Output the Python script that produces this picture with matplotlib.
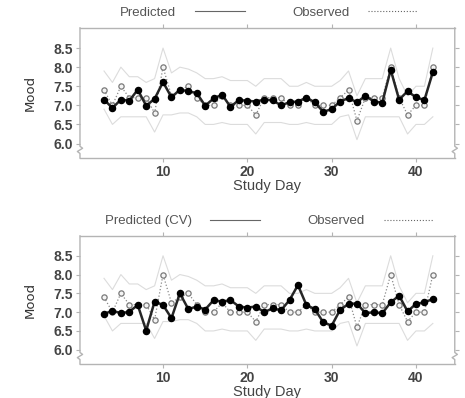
import matplotlib
matplotlib.use('Agg')
import matplotlib.pyplot as plt
import numpy as np

plt.rcParams['font.family'] = ['Liberation Sans', 'DejaVu Sans']

days = list(range(3, 43))

observed = [7.4, 7.0, 7.5, 7.2, 7.2, 7.2, 6.8, 8.0, 7.25, 7.4,
            7.5, 7.2, 7.0, 7.0, 7.25, 7.0, 7.0, 7.0, 6.75, 7.2,
            7.2, 7.2, 7.0, 7.0, 7.2, 7.0, 7.0, 7.0, 7.2, 7.4,
            6.6, 7.2, 7.2, 7.2, 8.0, 7.2, 6.75, 7.0, 7.0, 8.0]

predicted = [7.15, 6.93, 7.15, 7.12, 7.41, 6.99, 7.17, 7.61, 7.21, 7.41,
             7.37, 7.32, 6.99, 7.18, 7.28, 6.96, 7.14, 7.12, 7.10, 7.15,
             7.13, 7.00, 7.08, 7.10, 7.20, 7.08, 6.83, 6.90, 7.10, 7.19,
             7.08, 7.25, 7.10, 7.07, 7.93, 7.15, 7.37, 7.21, 7.14, 7.87]

predicted_cv = [6.95, 7.04, 6.97, 7.01, 7.19, 6.51, 7.28, 7.19, 6.84, 7.50,
                7.08, 7.15, 7.07, 7.32, 7.28, 7.32, 7.15, 7.12, 7.15, 7.00,
                7.10, 7.05, 7.32, 7.72, 7.19, 7.08, 6.73, 6.64, 7.06, 7.22,
                7.23, 6.97, 7.00, 6.97, 7.26, 7.44, 7.02, 7.22, 7.26, 7.35]

upper = [7.9, 7.6, 8.0, 7.75, 7.75, 7.6, 7.7, 8.5, 7.85, 8.0,
         7.95, 7.85, 7.7, 7.7, 7.75, 7.65, 7.65, 7.65, 7.5, 7.7,
         7.7, 7.7, 7.5, 7.5, 7.6, 7.5, 7.5, 7.5, 7.65, 7.9,
         7.25, 7.7, 7.7, 7.7, 8.5, 7.7, 7.25, 7.5, 7.5, 8.5]

lower = [6.9, 6.5, 6.7, 6.7, 6.7, 6.7, 6.3, 6.75, 6.75, 6.8,
         6.8, 6.7, 6.5, 6.5, 6.55, 6.5, 6.5, 6.5, 6.25, 6.55,
         6.55, 6.55, 6.5, 6.5, 6.55, 6.5, 6.5, 6.5, 6.7, 6.75,
         6.1, 6.7, 6.7, 6.7, 6.7, 6.7, 6.25, 6.5, 6.5, 6.7]

yticks = [6.0, 6.5, 7.0, 7.5, 8.0, 8.5]
xticks = [10, 20, 30, 40]

frame_col = '#b4b4b4'
text_col = '#444444'


def frame_with_breaks(ax):
    # light gray box with zigzag axis breaks near the bottom of both sides
    for s in ax.spines.values():
        s.set_visible(False)
    kw = dict(transform=ax.transAxes, color=frame_col, lw=1, clip_on=False)
    ax.plot([0, 1], [0, 0], **kw)
    ax.plot([0, 1], [1, 1], **kw)
    for x in (0, 1):
        d = 0.007
        ax.plot([x, x, x - d, x + d, x, x],
                [0, 0.035, 0.05, 0.075, 0.09, 1], **kw)


def panel(ax, pred, label):
    ax.plot(days, upper, color='#dcdcdc', lw=0.8, zorder=1)
    ax.plot(days, lower, color='#dcdcdc', lw=0.8, zorder=1)
    ax.plot(days, observed, color='#8a8a8a', lw=0.9, ls=':', marker='o',
            ms=3.8, mfc='#f4f4f4', mec='#7a7a7a', mew=0.9, zorder=2,
            label='Observed')
    ax.plot(days, pred, color='#262626', lw=1.8, marker='o', ms=4.4,
            mfc='black', mec='black', zorder=3, label=label)
    ax.set_xlim(0.15, 44.6)
    ax.set_ylim(5.62, 9.03)
    ax.set_xticks(xticks)
    ax.set_yticks(yticks)
    ax.set_yticklabels([f'{v:.1f}' for v in yticks])
    ax.tick_params(axis='both', direction='out', length=3, width=0.8,
                   color=frame_col, labelcolor=text_col, labelsize=10,
                   pad=2, top=True, right=True, labeltop=False,
                   labelright=False)
    for t in ax.get_xticklabels() + ax.get_yticklabels():
        t.set_fontweight('bold')
    ax.set_xlabel('Study Day', fontsize=10.5, color=text_col, labelpad=0)
    ax.set_ylabel('Mood', fontsize=9.5, color='#333333', labelpad=12,
                  family='DejaVu Sans')
    frame_with_breaks(ax)

    h, l = ax.get_legend_handles_labels()
    leg = ax.legend(h[::-1], l[::-1], loc='center', ncol=2,
                    bbox_to_anchor=(0.505, 1.115), frameon=False,
                    markerfirst=False, fontsize=9.5, handlelength=3.8,
                    handletextpad=1.4, columnspacing=3.6)
    for t in leg.get_texts():
        t.set_color('#555555')
    for line in leg.get_lines():
        line.set_marker('')
        line.set_linewidth(0.8)
        line.set_color('#666666')


fig = plt.figure(figsize=(4.65, 3.98), dpi=100)
ax1 = fig.add_axes([0.172, 0.603, 0.806, 0.327])
ax2 = fig.add_axes([0.172, 0.0854, 0.806, 0.322])

panel(ax1, predicted, 'Predicted')
panel(ax2, predicted_cv, 'Predicted (CV)')

fig.savefig('out.png', dpi=100)
